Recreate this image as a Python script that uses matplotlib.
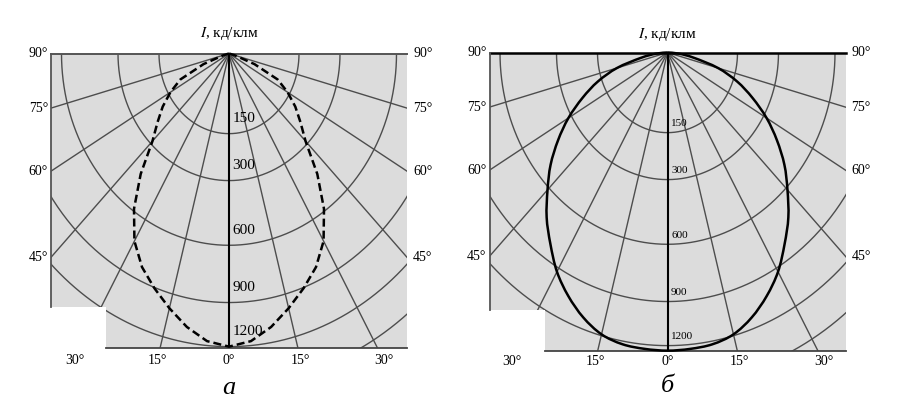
import numpy as np
import matplotlib.pyplot as plt
from matplotlib.patches import Polygon, PathPatch
from matplotlib.path import Path

plt.rcParams['font.family'] = ['Liberation Serif', 'DejaVu Serif']
plt.rcParams['mathtext.fontset'] = 'stix'

# intensity scale of the grid, cd/klm, and the radius each arc is drawn at (nonlinear scale)
arc_values = [0, 150, 300, 600, 900, 1200, 1500]
arc_radii = [0, 70, 111, 167.5, 217.5, 256, 289]
arc_labels = [150, 300, 600, 900, 1200]
ray_angles = [-75, -60, -45, -30, -15, 15, 30, 45, 60, 75]
side_labels = [90, 75, 60, 45]
bottom_labels = [-30, -15, 0, 15, 30]

# light distribution curves (half, symmetric), angle from nadir in degrees
theta = [0, 5, 10, 15, 20, 25, 30, 35, 40, 45, 50, 55, 60, 65, 70, 75, 80, 85, 90]
intensity_a = [1200, 1170, 1095, 1000, 905, 830, 730, 590, 440, 290,
               235, 190, 145, 115, 58, 12, 0, 0, 0]
intensity_b = [1240, 1235, 1225, 1191, 1124, 1034, 928, 820, 723, 613,
               521, 420, 318, 237, 165, 112, 58, 25, 0]

S = 1.145  # vertical stretch of the printed grid
HALF_W = 178
W, H = 897, 400


def radius(values):
    return np.interp(values, arc_values, arc_radii)


def polar_xy(angles_deg, values):
    t = np.radians(angles_deg)
    r = radius(values)
    return r * np.sin(t), -r * np.cos(t)


def smooth_path(x, y):
    # catmull-rom through the points, as cubic bezier pieces
    p = np.column_stack([x, y])
    p = np.vstack([p[0], p, p[-1]])
    verts = [p[1]]
    codes = [Path.MOVETO]
    for i in range(1, len(p) - 2):
        c1 = p[i] + (p[i + 1] - p[i - 1]) / 6
        c2 = p[i + 1] - (p[i + 2] - p[i]) / 6
        verts += [c1, c2, p[i + 1]]
        codes += [Path.CURVE4] * 3
    return Path(verts, codes)


def draw_panel(fig, origin_x, top, bottom, notch_x, notch_y, angles, values,
               curve_kw, smooth, edge_color, edge_lw, lab_size, lab_dy, label_y, letter, letter_y):
    height = bottom - top
    ax = fig.add_axes([(origin_x - HALF_W) / W, (H - bottom) / H, 2 * HALF_W / W, height / H])
    ymin = -height / S
    ny = -(notch_y - top) / S
    nx = notch_x - origin_x
    ax.set_xlim(-HALF_W, HALF_W)
    ax.set_ylim(ymin, 0)
    ax.axis('off')

    area = Polygon([(-HALF_W, 0), (HALF_W, 0), (HALF_W, ymin), (nx, ymin), (nx, ny), (-HALF_W, ny)],
                   closed=True, facecolor='#dcdcdc', edgecolor='none', zorder=0)
    ax.add_patch(area)

    grid_kw = dict(color='#4d4d4d', lw=1.0, zorder=1)
    t = np.linspace(-90, 90, 361)
    for v in arc_values[1:]:
        x, y = polar_xy(t, np.full_like(t, v))
        line, = ax.plot(x, y, **grid_kw)
        line.set_clip_path(area)
    for a in ray_angles:
        x, y = polar_xy([a, a], [0, 1500])
        line, = ax.plot(x * 2, y * 2, **grid_kw)
        line.set_clip_path(area)
    ax.plot([0, 0], [0, ymin], color='black', lw=1.5, zorder=2, solid_capstyle='butt')

    ax.plot([-HALF_W, HALF_W], [0, 0], color=edge_color, lw=edge_lw, clip_on=False, zorder=3)
    ax.plot([-HALF_W, -HALF_W], [0, ny], color='#555555', lw=1.3, clip_on=False, zorder=3)
    ax.plot([nx, HALF_W], [ymin, ymin], color='#444444', lw=1.3, clip_on=False, zorder=3)

    a_full = np.concatenate([-np.array(angles[::-1]), angles[1:]])
    v_full = np.concatenate([values[::-1], values[1:]])
    x, y = polar_xy(a_full, v_full)
    if smooth:
        ax.add_patch(PathPatch(smooth_path(x, y), facecolor='none', edgecolor='black',
                               zorder=4, clip_on=False, **curve_kw))
    else:
        ax.plot(x, y, color='black', zorder=4, clip_on=False, **curve_kw)

    for v in arc_labels:
        ax.text(3.5, -radius(v) + lab_dy, str(v), fontsize=lab_size, ha='left', va='center', zorder=5)

    for a in side_labels:
        yy = 0 if a == 90 else -HALF_W / np.tan(np.radians(a))
        ax.text(-HALF_W - 3, yy, f'{a}°', fontsize=10, ha='right', va='center')
        ax.text(HALF_W + 6, yy, f'{a}°', fontsize=10, ha='left', va='center')
    yl = -(label_y - top) / S
    for a in bottom_labels:
        ax.text(-yl * np.tan(np.radians(a)), yl, f'{abs(a)}°', fontsize=10, ha='center', va='center')

    ax.text(0, (top - 34) / S, r'$\mathit{I}$, кд/клм', fontsize=11, ha='center', va='center')
    ax.text(0, -(letter_y - top) / S, letter, fontsize=19, style='italic', ha='center', va='center')


fig = plt.figure(figsize=(W / 100, H / 100), dpi=100)

draw_panel(fig, 229, 53.5, 347.5, 106, 307, theta, intensity_a,
           dict(lw=1.8, linestyle=(0, (3.2, 1.6))), False, '#555555', 1.4,
           11, 13, 360, 'а', 388)
draw_panel(fig, 667.5, 52.5, 351, 545, 310, theta, intensity_b,
           dict(lw=1.8), True, 'black', 1.8,
           8, 8, 361.7, 'б', 386)

fig.savefig('out.png', dpi=100, facecolor='white')
